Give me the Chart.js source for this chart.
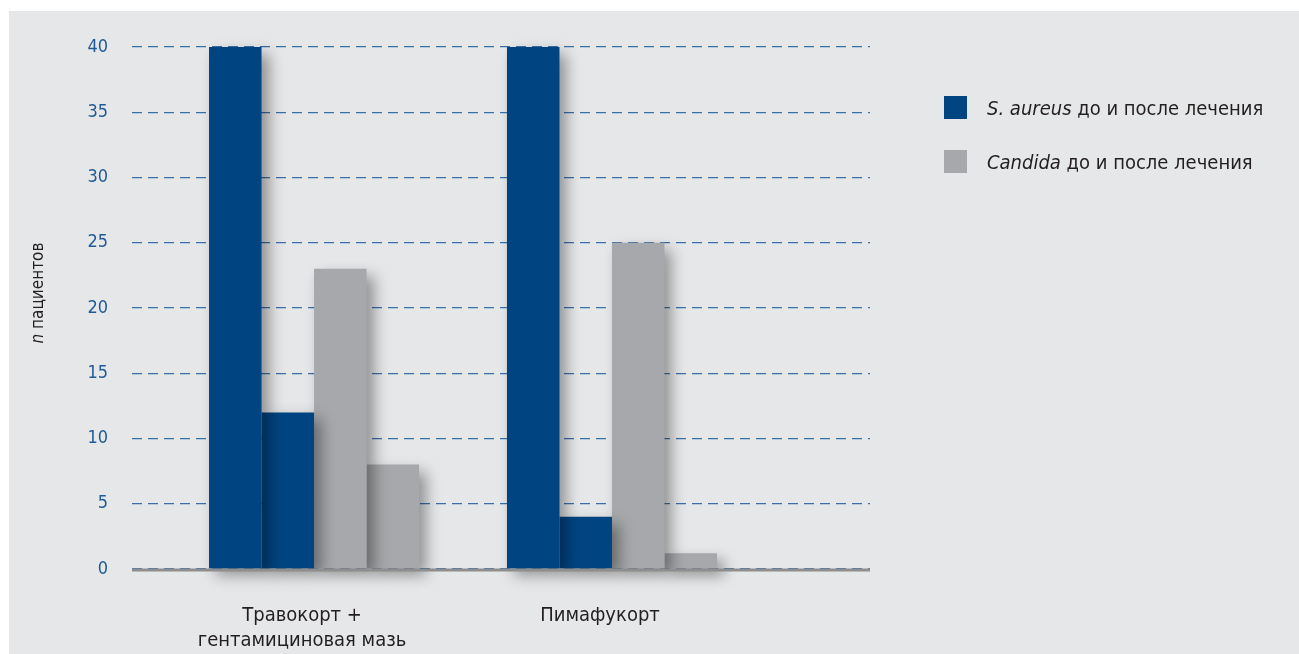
<!DOCTYPE html>
<html>
<head>
<meta charset="utf-8">
<script src="https://cdn.jsdelivr.net/npm/chart.js@4"></script>
<style>
  html, body { margin: 0; padding: 0; background: #ffffff; }
  #wrap { position: absolute; left: 0; top: 0; width: 1299px; height: 654px; }
</style>
</head>
<body>
<div id="wrap"><canvas id="myChart"></canvas></div>
<script>
// data
var categories = [['Травокорт +', 'гентамициновая мазь'], 'Пимафукорт'];
var seriesNames = ['S. aureus до лечения', 'S. aureus после лечения', 'Candida до лечения', 'Candida после лечения'];
var saureusBefore = [40, 40];
var saureusAfter = [12, 4];
var candidaBefore = [23, 25];
var candidaAfter = [8, 1.2];
var yTicks = [0, 5, 10, 15, 20, 25, 30, 35, 40];
var legendItalic = ['S. aureus', 'Candida'];
var legendRest = [' до и после лечения', ' до и после лечения'];
var yTitleItalic = 'n';
var yTitleRest = ' пациентов';

var FONT = "'Liberation Sans Narrow', 'DejaVu Sans Condensed', 'Roboto', sans-serif";
var BLUE = '#004582';
var GRAY = '#a7a8ab';
var TEXT = '#231f20';

function points(arr) {
    return arr.map(function (v, i) { return { x: i, y: v }; });
}

var panelPlugin = {
    id: 'panel',
    beforeDraw: function (chart) {
        var c = chart.ctx;
        c.save();
        c.fillStyle = '#ffffff';
        c.fillRect(0, 0, chart.width, chart.height);
        c.fillStyle = '#e6e7e8';
        c.fillRect(9, 11, chart.width - 9, chart.height - 11);
        c.restore();
    }
};

var shadowPlugin = {
    id: 'barShadow',
    beforeDatasetsDraw: function (chart) {
        var c = chart.ctx;
        c.save();
        c.shadowColor = 'rgba(0,0,0,0.38)';
        c.shadowBlur = 14;
        c.shadowOffsetX = 7;
        c.shadowOffsetY = 7;
    },
    afterDatasetsDraw: function (chart) {
        var c = chart.ctx;
        c.restore();
        var a = chart.chartArea;
        c.save();
        c.strokeStyle = '#8e8e8e';
        c.lineWidth = 3;
        c.beginPath();
        c.moveTo(a.left, a.bottom + 1);
        c.lineTo(a.right, a.bottom + 1);
        c.stroke();
        c.restore();
    }
};

var extrasPlugin = {
    id: 'extras',
    afterDraw: function (chart) {
        var c = chart.ctx;
        var colors = [BLUE, GRAY];
        c.save();
        // legend
        for (var i = 0; i < legendItalic.length; i++) {
            var y = 96 + i * 54;
            c.fillStyle = colors[i];
            c.fillRect(944, y, 23, 23);
            c.textBaseline = 'alphabetic';
            c.fillStyle = TEXT;
            c.font = 'italic 20px ' + FONT;
            c.fillText(legendItalic[i], 987, y + 19);
            var w = c.measureText(legendItalic[i]).width;
            c.font = '20px ' + FONT;
            c.fillText(legendRest[i], 987 + w, y + 19);
        }
        // y axis title
        c.translate(43, 293);
        c.rotate(-Math.PI / 2);
        c.font = 'italic 17px ' + FONT;
        var w1 = c.measureText(yTitleItalic).width;
        c.font = '17px ' + FONT;
        var w2 = c.measureText(yTitleRest).width;
        var x0 = -(w1 + w2) / 2;
        c.fillStyle = TEXT;
        c.font = 'italic 17px ' + FONT;
        c.fillText(yTitleItalic, x0, 0);
        c.font = '17px ' + FONT;
        c.fillText(yTitleRest, x0 + w1, 0);
        c.restore();
    }
};

var ctx = document.getElementById('myChart').getContext('2d');
var myBarChart = new Chart(ctx, {
    type: 'bar',
    data: {
        datasets: [
            { label: seriesNames[0], data: points(saureusBefore), backgroundColor: BLUE, clip: false },
            { label: seriesNames[1], data: points(saureusAfter), backgroundColor: BLUE, clip: false },
            { label: seriesNames[2], data: points(candidaBefore), backgroundColor: GRAY, clip: false },
            { label: seriesNames[3], data: points(candidaAfter), backgroundColor: GRAY, clip: false }
        ]
    },
    options: {
        responsive: true,
        maintainAspectRatio: false,
        animation: false,
        datasets: {
            bar: {
                categoryPercentage: 0.705,
                barPercentage: 1
            }
        },
        layout: {
            padding: { left: 0, right: 429, top: 47, bottom: 0 }
        },
        scales: {
            x: {
                type: 'linear',
                offset: false,
                min: -0.611,
                max: 1.866,
                afterBuildTicks: function (axis) {
                    axis.ticks = categories.map(function (c, i) { return { value: i }; });
                },
                afterFit: function (axis) { axis.height = 85; },
                grid: { display: false, offset: false },
                border: { display: false },
                ticks: {
                    autoSkip: false,
                    maxRotation: 0,
                    padding: 26,
                    labelOffset: -12,
                    color: TEXT,
                    font: { family: FONT, size: 20, lineHeight: 1.25 },
                    callback: function (v, i) { return categories[i]; }
                }
            },
            y: {
                min: 0,
                max: 40,
                afterBuildTicks: function (axis) {
                    axis.ticks = yTicks.map(function (v) { return { value: v }; });
                },
                afterFit: function (axis) { axis.width = 132; },
                grid: {
                    color: '#3a6fa8',
                    lineWidth: 1.2,
                    drawTicks: false
                },
                border: { display: false, dash: [10, 6] },
                ticks: {
                    padding: 24,
                    color: '#1f5a96',
                    font: { family: FONT, size: 18 }
                }
            }
        },
        plugins: {
            legend: { display: false },
            tooltip: { enabled: false },
            title: { display: false }
        }
    },
    plugins: [panelPlugin, shadowPlugin, extrasPlugin]
});
</script>
</body>
</html>
